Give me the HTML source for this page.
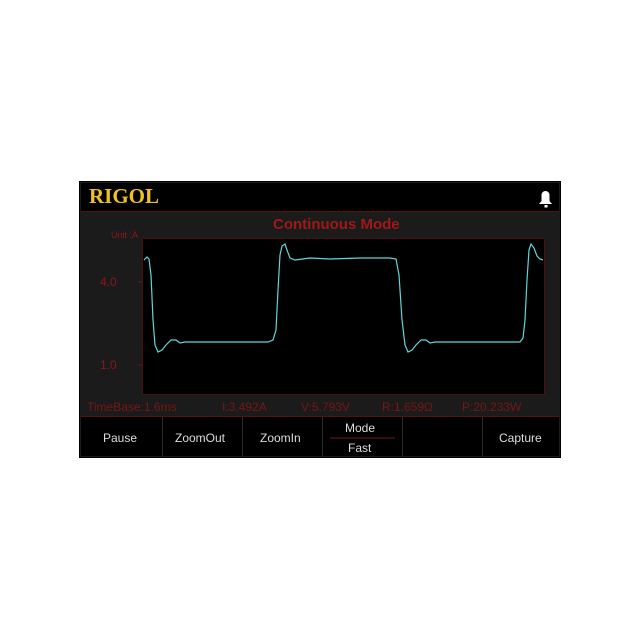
<!DOCTYPE html>
<html><head><meta charset="utf-8"><style>
body{margin:0;width:640px;height:640px;background:#fff;position:relative;font-family:"Liberation Sans",sans-serif;overflow:hidden}
#o{position:absolute;left:79px;top:181px;width:482px;height:277px;border:1px solid #000;box-sizing:border-box;background:#1b1b1b}
.t{position:absolute;white-space:nowrap}
</style></head><body>
<div id="o"></div>
<svg style="position:absolute;left:0;top:0" width="640" height="640">
<rect x="81" y="183" width="478" height="28" fill="#000"/>
<line x1="81" y1="211.5" x2="559" y2="211.5" stroke="#5a1010" stroke-width="1"/>
<rect x="142.5" y="238.5" width="402" height="156" fill="#000" stroke="#4a1010"/>
<line x1="138" y1="282" x2="142" y2="282" stroke="#6a1515"/>
<line x1="138" y1="365" x2="142" y2="365" stroke="#6a1515"/>
<rect x="81" y="416" width="478" height="40" fill="#000"/>
<line x1="81" y1="416.5" x2="559" y2="416.5" stroke="#5a1010"/>
<g stroke="#2a2a2a"><line x1="162.5" y1="417" x2="162.5" y2="456"/><line x1="242.5" y1="417" x2="242.5" y2="456"/><line x1="322.5" y1="417" x2="322.5" y2="456"/><line x1="402.5" y1="417" x2="402.5" y2="456"/><line x1="482.5" y1="417" x2="482.5" y2="456"/></g>
<line x1="330" y1="438" x2="395" y2="438" stroke="#6a1a1a"/>
<polyline fill="none" stroke="#5fd8d8" stroke-width="1.2" points="144,260 147,257 149,259 151,275 153,320 155,345 158,352 162,350 166,345 171,340 176,340 180,343 185,342 200,342 240,342 268,342 273,340 276,330 278,290 280,255 282,246 285,244 287,250 290,258 295,260 310,258 330,259 360,258 390,258 396,259 399,275 402,320 405,345 408,352 412,350 416,345 421,340 426,340 430,343 435,342 460,342 500,342 520,342 523,338 525,320 527,280 529,250 531,244 534,248 537,256 540,259 543,260"/>
<path d="M539 204 h13 l-2.5 -3 v-6 a4 4 0 0 0 -8 0 v6 z" fill="#fff"/>
<rect x="544.5" y="205" width="3" height="2.5" fill="#fff"/>
</svg>
<div class="t" style="left:89px;top:184px;font:bold 21px 'Liberation Serif',serif;color:#f0c020">RIGOL</div>
<div class="t" style="left:273px;top:216px;font-size:15px;font-weight:bold;color:#a01818">Continuous Mode</div>
<div class="t" style="left:111px;top:230px;font-size:9px;color:#901818">Unit :A</div>
<div class="t" style="left:100px;top:275px;font-size:12px;color:#8a1818">4.0</div>
<div class="t" style="left:100px;top:358px;font-size:12px;color:#8a1818">1.0</div>
<div class="t" style="left:87px;top:400px;font-size:12px;color:#7a1515">TimeBase:1.6ms</div>
<div class="t" style="left:222px;top:400px;font-size:12px;color:#7a1515">I:3.492A</div>
<div class="t" style="left:301px;top:400px;font-size:12px;color:#7a1515">V:5.793V</div>
<div class="t" style="left:382px;top:400px;font-size:12px;color:#7a1515">R:1.659Ω</div>
<div class="t" style="left:462px;top:400px;font-size:12px;color:#7a1515">P:20.233W</div>
<div class="t" style="left:103px;top:431px;font-size:12px;color:#ddd">Pause</div>
<div class="t" style="left:175px;top:431px;font-size:12px;color:#ddd">ZoomOut</div>
<div class="t" style="left:260px;top:431px;font-size:12px;color:#ddd">ZoomIn</div>
<div class="t" style="left:345px;top:421px;font-size:12px;color:#ddd">Mode</div>
<div class="t" style="left:348px;top:441px;font-size:12px;color:#ddd">Fast</div>
<div class="t" style="left:499px;top:431px;font-size:12px;color:#ddd">Capture</div>
</body></html>
